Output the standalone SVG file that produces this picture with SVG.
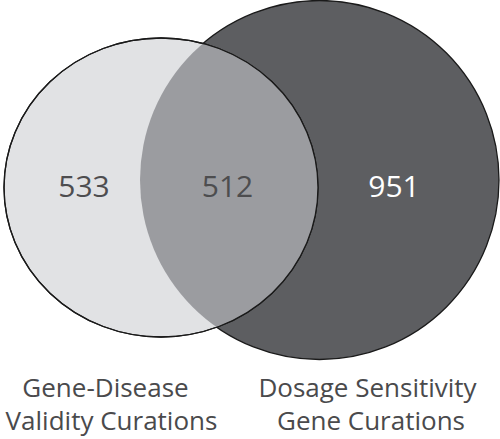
<svg xmlns="http://www.w3.org/2000/svg" width="500" height="439" viewBox="0 0 500 439">
<style>
.num{font-family:"Open Sans","Noto Sans",sans-serif;font-size:30px;text-anchor:middle}
.lbl{font-family:"Open Sans","Noto Sans",sans-serif;font-size:26px;fill:#4a4a4c;text-anchor:middle}
.edge{stroke:#1a1a1a;stroke-width:1.3}
</style>
<defs>
<clipPath id="clipL"><ellipse cx="161" cy="187.5" rx="157" ry="149.5"/></clipPath>
</defs>
<g id="set-dosage">
<circle cx="319.5" cy="180" r="179.5" fill="#5d5e61" class="edge"/>
</g>
<g id="set-validity">
<ellipse cx="161" cy="187.5" rx="157" ry="149.5" fill="#e1e2e4" class="edge"/>
</g>
<g id="overlap">
<circle cx="319.5" cy="180" r="179.5" fill="#9b9ca0" clip-path="url(#clipL)"/>
<ellipse cx="161" cy="187.5" rx="157" ry="149.5" fill="none" class="edge"/>
</g>
<g id="counts">
<text class="num" x="84" y="197" fill="#4d4d4f">533</text>
<text class="num" x="227.5" y="197" fill="#4d4d4f">512</text>
<text class="num" x="394" y="197" fill="#ffffff">951</text>
</g>
<g id="label-validity">
<text class="lbl" x="105.5" y="397">Gene-Disease</text>
<text class="lbl" x="111.5" y="430">Validity Curations</text>
</g>
<g id="label-dosage">
<text class="lbl" x="367.5" y="397">Dosage Sensitivity</text>
<text class="lbl" x="371" y="430">Gene Curations</text>
</g>
</svg>
